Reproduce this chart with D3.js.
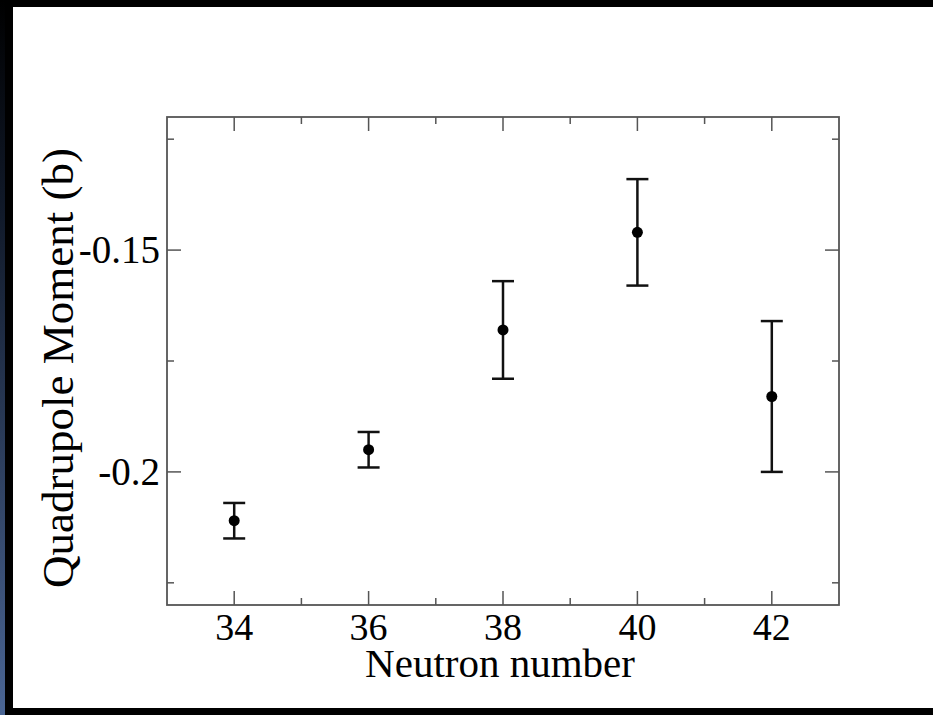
<!DOCTYPE html>
<html>
<head>
<meta charset="utf-8">
<script src="https://cdn.jsdelivr.net/npm/d3@7"></script>
<style>
  html, body { margin: 0; padding: 0; background: #000; }
  svg { display: block; }
</style>
</head>
<body>
<div id="chart"></div>
<script>
// neutron number, quadrupole moment (b), error
var neutrons = [34, 36, 38, 40, 42];
var moments = [-0.211, -0.195, -0.168, -0.146, -0.183];
var errors = [0.004, 0.004, 0.011, 0.012, 0.017];

var xMajor = [34, 36, 38, 40, 42];
var xMinor = [35, 37, 39, 41];
var yMajor = [-0.15, -0.2];
var yMinor = [-0.125, -0.175, -0.225];
var yLabels = ["-0.15", "-0.2"];

var W = 933, H = 715;
var margin = { top: 117, right: 94, bottom: 110, left: 167 };
var width = W - margin.left - margin.right,
    height = H - margin.top - margin.bottom;

var svg = d3.select("#chart")
    .append("svg")
    .attr("width", W)
    .attr("height", H);

// frame: black edges, bluish strip at far left
var grad = svg.append("defs").append("linearGradient")
    .attr("id", "strip")
    .attr("x1", 0).attr("y1", 0).attr("x2", 0).attr("y2", 1);
grad.append("stop").attr("offset", "0%").attr("stop-color", "#000");
grad.append("stop").attr("offset", "30%").attr("stop-color", "#111a2a");
grad.append("stop").attr("offset", "100%").attr("stop-color", "#4a6594");

svg.append("rect").attr("width", W).attr("height", H).attr("fill", "#000");
svg.append("rect").attr("width", 5).attr("height", H).attr("fill", "url(#strip)");
svg.append("rect")
    .attr("x", 13).attr("y", 7)
    .attr("width", W - 13).attr("height", 701)
    .attr("fill", "#fff");

var g = svg.append("g")
    .attr("transform", "translate(" + margin.left + "," + margin.top + ")");

var x = d3.scaleLinear().domain([33, 43]).range([0, width]);
var y = d3.scaleLinear().domain([-0.23, -0.12]).range([height, 0]);

var axisColor = "#555";

// ticks on all four sides, pointing inward
function ticks(values, len) {
    values.forEach(function (v) {
        g.append("line")
            .attr("x1", x(v)).attr("x2", x(v))
            .attr("y1", height).attr("y2", height - len)
            .attr("stroke", axisColor).attr("stroke-width", 1.5);
        g.append("line")
            .attr("x1", x(v)).attr("x2", x(v))
            .attr("y1", 0).attr("y2", len)
            .attr("stroke", axisColor).attr("stroke-width", 1.5);
    });
}
function yticks(values, len) {
    values.forEach(function (v) {
        g.append("line")
            .attr("x1", 0).attr("x2", len)
            .attr("y1", y(v)).attr("y2", y(v))
            .attr("stroke", axisColor).attr("stroke-width", 1.5);
        g.append("line")
            .attr("x1", width).attr("x2", width - len)
            .attr("y1", y(v)).attr("y2", y(v))
            .attr("stroke", axisColor).attr("stroke-width", 1.5);
    });
}
ticks(xMajor, 14);
ticks(xMinor, 7);
yticks(yMajor, 14);
yticks(yMinor, 7);

g.append("rect")
    .attr("width", width).attr("height", height)
    .attr("fill", "none")
    .attr("stroke", axisColor).attr("stroke-width", 1.8);

var font = "'Liberation Serif', 'Times New Roman', serif";

g.selectAll(".xlab")
    .data(xMajor)
    .enter().append("text")
    .attr("class", "xlab")
    .attr("x", function (d) { return x(d); })
    .attr("y", height + 35)
    .attr("text-anchor", "middle")
    .style("font-family", font)
    .style("font-size", "38px")
    .text(function (d) { return d; });

g.selectAll(".ylab")
    .data(yMajor)
    .enter().append("text")
    .attr("class", "ylab")
    .attr("x", -7)
    .attr("y", function (d) { return y(d); })
    .attr("dy", "0.34em")
    .attr("text-anchor", "end")
    .style("font-family", font)
    .style("font-size", "39px")
    .text(function (d, i) { return yLabels[i]; });

g.append("text")
    .attr("x", width / 2 - 3)
    .attr("y", height + 72)
    .attr("text-anchor", "middle")
    .style("font-family", font)
    .style("font-size", "41px")
    .text("Neutron number");

g.append("text")
    .attr("transform", "translate(" + (-94) + "," + (height / 2 + 7) + ") rotate(-90)")
    .attr("text-anchor", "middle")
    .style("font-family", font)
    .style("font-size", "45px")
    .text("Quadrupole Moment (b)");

// error bars
var pts = neutrons.map(function (n, i) {
    return { n: n, q: moments[i], e: errors[i] };
});

var bars = g.selectAll(".bar")
    .data(pts)
    .enter().append("g")
    .attr("class", "bar");

bars.append("line")
    .attr("x1", function (d) { return x(d.n); })
    .attr("x2", function (d) { return x(d.n); })
    .attr("y1", function (d) { return y(d.q + d.e); })
    .attr("y2", function (d) { return y(d.q - d.e); })
    .attr("stroke", "#111").attr("stroke-width", 2.5);

[1, -1].forEach(function (s) {
    bars.append("line")
        .attr("x1", function (d) { return x(d.n) - 11; })
        .attr("x2", function (d) { return x(d.n) + 11; })
        .attr("y1", function (d) { return y(d.q + s * d.e); })
        .attr("y2", function (d) { return y(d.q + s * d.e); })
        .attr("stroke", "#111").attr("stroke-width", 2.5);
});

bars.append("circle")
    .attr("cx", function (d) { return x(d.n); })
    .attr("cy", function (d) { return y(d.q); })
    .attr("r", 5.5)
    .attr("fill", "#000");
</script>
</body>
</html>
